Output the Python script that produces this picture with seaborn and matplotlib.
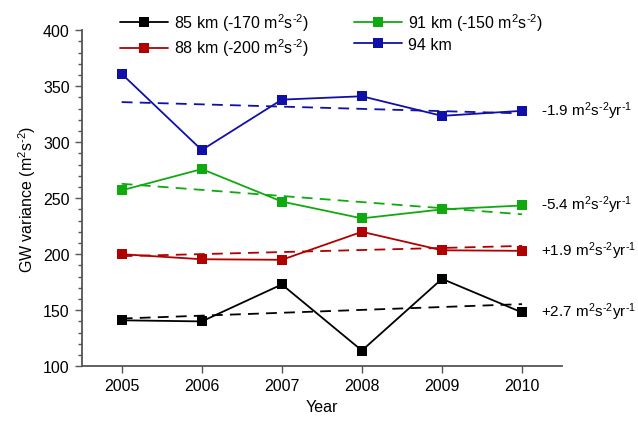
import numpy as np
import pandas as pd
import seaborn as sns
import matplotlib.pyplot as plt
from matplotlib.ticker import MultipleLocator

years = [2005, 2006, 2007, 2008, 2009, 2010]
km85 = [141, 140, 173, 114, 178, 148]
km88 = [200, 195.5, 195, 220, 203.5, 203]
km91 = [257, 276, 247, 232, 240, 243.5]
km94 = [361, 293, 338, 341, 323.5, 328]

U = r'm$^2$s$^{\text{-2}}$'
labels = ['85 km (-170 ' + U + ')', '88 km (-200 ' + U + ')',
          '91 km (-150 ' + U + ')', '94 km']
trend_text = ['+2.7 ' + U + r'yr$^{\text{-1}}$', '+1.9 ' + U + r'yr$^{\text{-1}}$',
              '-5.4 ' + U + r'yr$^{\text{-1}}$', '-1.9 ' + U + r'yr$^{\text{-1}}$']
colors = ['#000000', '#B00000', '#10AA10', '#1010A8']

series = [km85, km88, km91, km94]
df = pd.concat([pd.DataFrame({'Year': years, 'var': v, 'series': lab})
                for v, lab in zip(series, labels)])

sns.set_style('ticks')
plt.rcParams['font.family'] = ['Liberation Sans', 'DejaVu Sans']
plt.rcParams['mathtext.fontset'] = 'custom'
plt.rcParams['mathtext.rm'] = 'Liberation Sans'
plt.rcParams['mathtext.it'] = 'Liberation Sans'
plt.rcParams['mathtext.default'] = 'regular'
plt.rcParams['text.color'] = 'black'
plt.rcParams['axes.labelcolor'] = 'black'
plt.rcParams['xtick.color'] = 'black'
plt.rcParams['ytick.color'] = 'black'

fig, ax = plt.subplots(figsize=(6.38, 4.27), dpi=100)
fig.subplots_adjust(left=0.128, right=0.881, top=0.927, bottom=0.14)

sns.lineplot(data=df, x='Year', y='var', hue='series', palette=colors,
             marker='s', markersize=7, markeredgewidth=0, linewidth=1.3,
             ax=ax, legend=True)

# dashed linear trends and their labels
for v, c, t in zip(series, colors, trend_text):
    p = np.polyfit(years, v, 1)
    fit = np.polyval(p, years)
    sns.lineplot(x=years, y=fit, color=c, linestyle=(0, (6, 4)), linewidth=1.3, ax=ax)
    ax.text(2010.24, v[-1] + 1, t, fontsize=11, va='center', ha='left', clip_on=False)

ax.set_xlim(2004.5, 2010.5)
ax.set_ylim(100, 400)
ax.set_xticks(years)
ax.yaxis.set_major_locator(MultipleLocator(50))
ax.yaxis.set_minor_locator(MultipleLocator(10))
ax.tick_params(axis='both', which='major', labelsize=11.5, length=5, width=1,
               direction='out', color='#555555')
ax.tick_params(axis='y', which='minor', length=3, width=1, direction='out', color='#555555')
for s in ['left', 'bottom']:
    ax.spines[s].set_color('#555555')
    ax.spines[s].set_linewidth(1.3)
sns.despine(ax=ax)
ax.set_xlabel('Year', fontsize=11.5)
ax.set_ylabel('GW variance (' + U + ')', fontsize=11.5)

handles, labs = ax.get_legend_handles_labels()
ax.legend(handles[:4], labs[:4], ncol=2, frameon=False, fontsize=11.5,
          loc='upper left', bbox_to_anchor=(0.05, 1.1), columnspacing=2.8,
          handlelength=3.0, handletextpad=0.4, labelspacing=0.25)

fig.savefig('out.png', dpi=100)
